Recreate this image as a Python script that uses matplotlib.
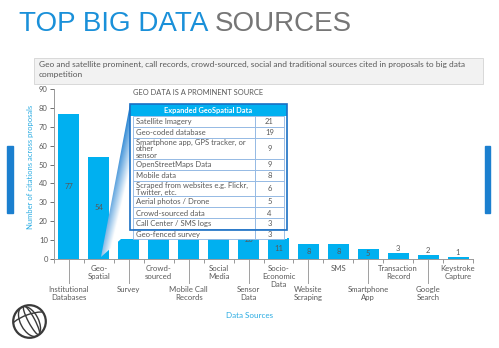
import numpy as np
import matplotlib
matplotlib.use('Agg')
from matplotlib import pyplot as plt
from matplotlib.patches import Rectangle, Polygon, Circle, Ellipse, Arc

# 各数据来源被引用次数
categories = ['Institutional\nDatabases', 'Geo-\nSpatial', 'Survey', 'Crowd-\nsourced',
              'Mobile Call\nRecords', 'Social\nMedia', 'Sensor\nData', 'Socio-\nEconomic\nData',
              'Website\nScraping', 'SMS', 'Smartphone\nApp', 'Transaction\nRecord',
              'Google\nSearch', 'Keystroke\nCapture']
citations = [77, 54, 32, 28, 26, 23, 20, 11, 8, 8, 5, 3, 2, 1]
shown = [True, True, False, False, False, False, True, True, True, True, True, True, True, True]

# 地理空间数据细分表
geo_items = ['Satellite Imagery', 'Geo-coded database',
             'Smartphone app, GPS tracker, or\nother\nsensor', 'OpenStreetMaps Data',
             'Mobile data', 'Scraped from websites e.g. Flickr,\nTwitter, etc.',
             'Aerial photos / Drone', 'Crowd-sourced data', 'Call Center / SMS logs',
             'Geo-fenced survey']
geo_counts = [21, 19, 9, 9, 8, 6, 5, 4, 3, 3]

BAR = '#00b0f0'
GREY = '#595959'
W, H = 499, 348

plt.rcParams['font.family'] = ['Lato', 'DejaVu Sans']
fig = plt.figure(figsize=(W / 100, H / 100), dpi=100)

# 主柱状图
x0, x1, yb, yt = 54, 473, 258.7, 89.3
ax = fig.add_axes([x0 / W, (H - yb) / H, (x1 - x0) / W, (yb - yt) / H])
xs = np.arange(len(citations))
ax.bar(xs, citations, width=0.7, color=BAR, zorder=2)
ax.set_xlim(-0.5, len(citations) - 0.5)
ax.set_ylim(0, 90)
ax.set_yticks(range(0, 91, 10))
ax.tick_params(axis='y', labelsize=5.5, colors=GREY, length=3, width=0.6, pad=1.5)
ax.set_xticks(np.arange(-0.5, len(citations), 1))
ax.set_xticklabels([])
ax.tick_params(axis='x', length=3, width=0.6, colors='#888888')
for s in ['top', 'right']:
    ax.spines[s].set_visible(False)
for s in ['left', 'bottom']:
    ax.spines[s].set_color('#999999')
    ax.spines[s].set_linewidth(0.7)

px = 90 / (yb - yt)  # 每像素对应的数据值
for i, (v, name) in enumerate(zip(citations, categories)):
    if shown[i]:
        if v >= 5:
            ax.text(i, v / 2, str(v), ha='center', va='center', fontsize=5.5, color=GREY, zorder=3)
        else:
            ax.text(i, v + 0.6, str(v), ha='center', va='bottom', fontsize=5.5, color=GREY, zorder=3)
    if i % 2 == 0:
        ax.plot([i, i], [0, -24.5 * px], color='#a0a0a0', lw=0.7, clip_on=False)
        ax.text(i, -27.5 * px, name, ha='center', va='top', fontsize=5.6, color=GREY,
                linespacing=1.15, clip_on=False)
    else:
        ax.text(i, -6.5 * px, name, ha='center', va='top', fontsize=5.6, color=GREY,
                linespacing=1.15, clip_on=False)

# 覆盖层：标题、说明框、表格等
ov = fig.add_axes([0, 0, 1, 1], zorder=5)
ov.set_xlim(0, W)
ov.set_ylim(H, 0)
ov.axis('off')
ov.patch.set_visible(False)

t1 = ov.text(19, 31, 'TOP BIG DATA ', fontsize=20, color='#1a90d9', va='baseline',
             family='Liberation Sans')
fig.canvas.draw()
bb = t1.get_window_extent().transformed(ov.transData.inverted())
ov.text(bb.x1, 31, 'SOURCES', fontsize=20, color='#767676', va='baseline',
        family='Liberation Sans')

ov.add_patch(Rectangle((34, 58), 449, 26, facecolor='#f2f2f2', edgecolor='#d4d4d4', lw=0.6))
ov.text(39, 61, 'Geo and satellite prominent, call records, crowd-sourced, social and traditional '
        'sources cited in proposals to big data\ncompetition', fontsize=6.05, color=GREY,
        va='top', linespacing=1.45)

ov.text(133, 92.5, 'GEO DATA IS A PROMINENT SOURCE', fontsize=5.4, color=GREY, va='center')
ov.text(31, 167, 'Number of citations across proposals', rotation=90, fontsize=5.5,
        color='#29abe2', ha='center', va='center')
ov.text(250, 315, 'Data Sources', fontsize=5.8, color='#29abe2', ha='center', va='center')

# 两侧装饰条
ov.add_patch(Rectangle((7.5, 146), 5.5, 67, color='#1b7fcf'))
ov.add_patch(Rectangle((485, 146), 5.5, 67, color='#1b7fcf'))

# 引线楔形（渐变）
wedge = Polygon([(101, 257), (130, 104), (130, 239), (121, 239)], closed=True,
                facecolor='none', edgecolor='none')
ov.add_patch(wedge)
gx, gy = np.meshgrid(np.linspace(98, 132, 80), np.linspace(100, 260, 300))
nx, ny = 153, 29
d = ((gx - 101) * nx + (gy - 257) * ny) / np.hypot(nx, ny)
t = np.clip(d / 16, 0, 1)
top = np.clip((gy - 104) / 150, 0, 1)
t = np.clip(t + 0.5 * top, 0, 1)
blue = np.array([0.12, 0.50, 0.82])
img = blue[None, None, :] * (1 - t[..., None]) + t[..., None]
im = ov.imshow(img, extent=(98, 132, 260, 100), aspect='auto', zorder=2)
im.set_clip_path(wedge)

# 表格
tl, tr, tv = 130, 287, 255
row_y = [116, 127, 137.5, 159.3, 170, 181, 196, 207.3, 218.3, 229, 238.5]
ov.add_patch(Rectangle((tl, 104), tr - tl, row_y[-1] - 104, facecolor='white',
                       edgecolor='none', zorder=3))
ov.add_patch(Rectangle((tl, 104), tr - tl, 12, facecolor=BAR, edgecolor='none', zorder=3))
ov.text((tl + tr) / 2, 110, 'Expanded GeoSpatial Data', fontsize=5.3, color='white',
        fontweight='bold', ha='center', va='center', zorder=4)
for k, (item, cnt) in enumerate(zip(geo_items, geo_counts)):
    ya, yb2 = row_y[k], row_y[k + 1]
    ov.add_patch(Rectangle((tl + 3, ya), tv - tl - 3, yb2 - ya, facecolor='white',
                           edgecolor='#8db4e2', lw=0.6, zorder=3))
    ov.add_patch(Rectangle((tv, ya), tr - tv - 3, yb2 - ya, facecolor='white',
                           edgecolor='#8db4e2', lw=0.6, zorder=3))
    ov.text(tl + 6, (ya + yb2) / 2 + 0.3, item, fontsize=5.5, color=GREY, va='center',
            linespacing=0.95, zorder=4)
    ov.text((tv + tr - 3) / 2, (ya + yb2) / 2 + 0.3, str(cnt), fontsize=5.5, color=GREY,
            ha='center', va='center', zorder=4)
ov.add_patch(Rectangle((tl, 104), tr - tl, 126, facecolor='none', edgecolor='#1a6fc4',
                       lw=1.2, zorder=4))

# 世界银行标志
cx, cy, r = 29.5, 321.5, 16.3
ring = Circle((cx, cy), r, facecolor='none', edgecolor='#3a3a3a', lw=1.6)
ov.add_patch(ring)
clip = Circle((cx, cy), r, transform=ov.transData)
parts = [Ellipse((cx, cy), r * 1.1, r * 2, angle=-28, fill=False),
         Ellipse((cx + 2, cy - 1), r * 0.4, r * 2, angle=-28, fill=False),
         Arc((cx - 4, cy - 22), 50, 40, angle=-20, theta1=230, theta2=330),
         Arc((cx + 4, cy + 22), 50, 40, angle=-20, theta1=50, theta2=150),
         Arc((cx, cy), 40, 14, angle=-20, theta1=180, theta2=360)]
for p in parts:
    p.set_edgecolor('#3a3a3a')
    p.set_linewidth(1.0)
    ov.add_patch(p)
    p.set_clip_path(clip)

fig.savefig('out.png', dpi=100)
